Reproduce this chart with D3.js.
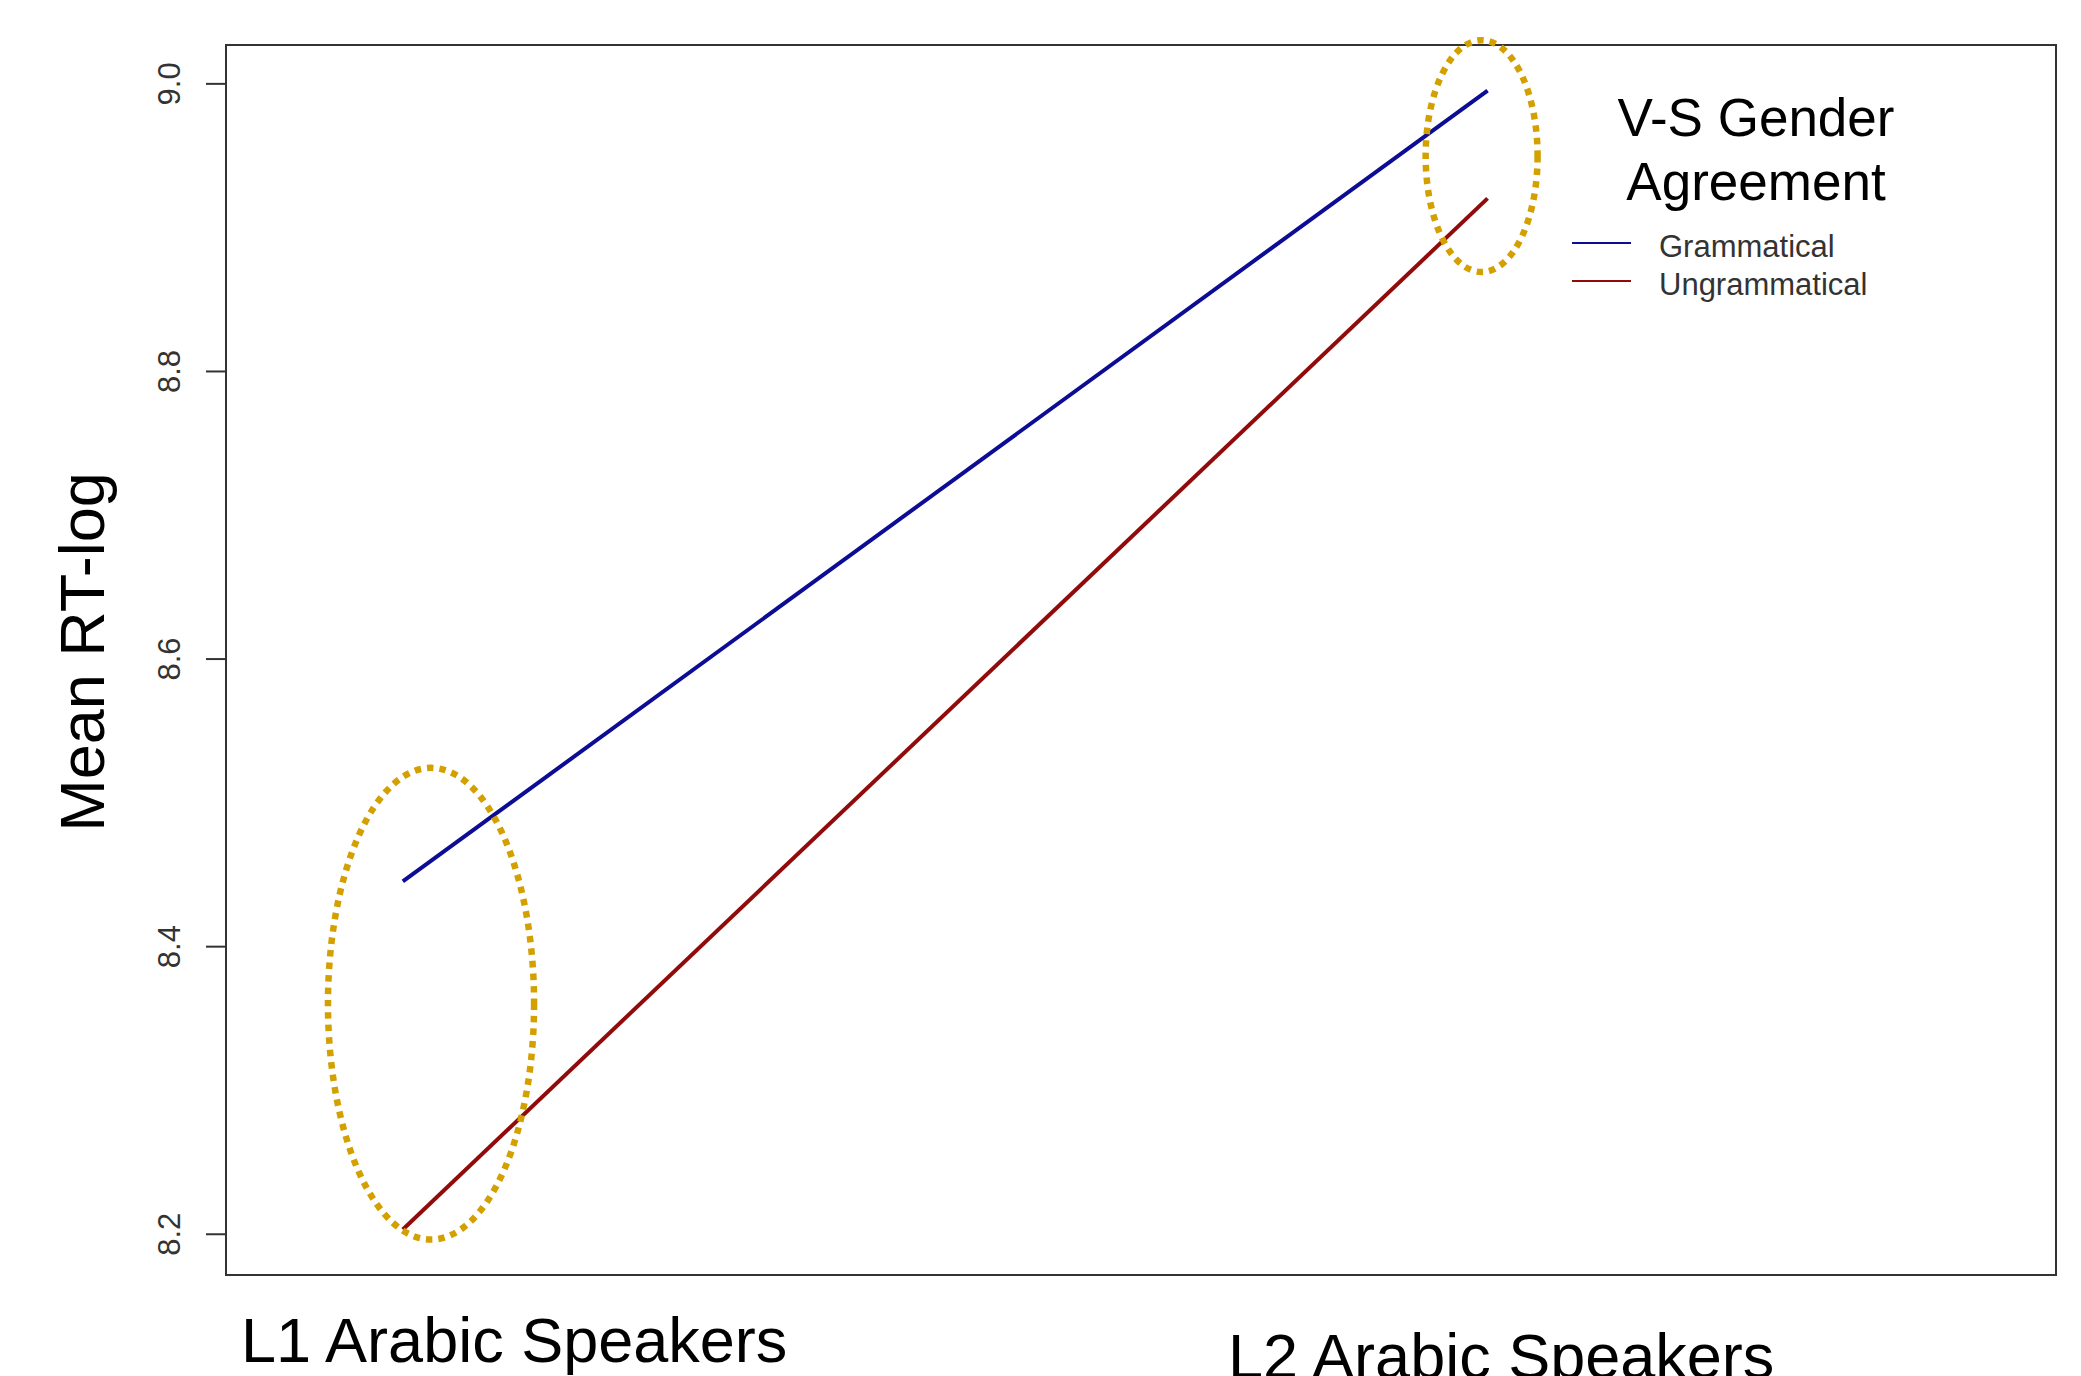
<!DOCTYPE html>
<html>
<head>
<meta charset="utf-8">
<script src="https://cdn.jsdelivr.net/npm/d3@7/dist/d3.min.js"></script>
<style>
  html, body { margin: 0; padding: 0; background: #fff; }
  svg { display: block; }
  text { font-family: "Liberation Sans", Arial, Helvetica, sans-serif; }
</style>
</head>
<body>
<script>
// ---- data ----
const groups = ["L1 Arabic Speakers", "L2 Arabic Speakers"];
const groupPos = [1, 2];
const seriesNames = ["Grammatical", "Ungrammatical"];
const grammatical = [8.445, 8.995];
const ungrammatical = [8.203, 8.920];
const seriesColors = ["#0c0c94", "#920b0b"];
const yTicks = [8.2, 8.4, 8.6, 8.8, 9.0];
const yTickLabels = ["8.2", "8.4", "8.6", "8.8", "9.0"];
const yTitle = "Mean RT-log";
const legendTitle = ["V-S Gender", "Agreement"];
// highlight ellipses (data units: centre x/y, radius in x units, radius in y units)
const highlightX = [1.026, 1.9945];
const highlightY = [8.360, 8.9494];
const highlightRX = [0.095, 0.0516];
const highlightRY = [0.164, 0.0806];

// ---- layout ----
const W = 2081, H = 1376;
const plot = { left: 226, top: 45, right: 2056, bottom: 1275 };

const svg = d3.select("body").append("svg")
  .attr("width", W).attr("height", H)
  .attr("viewBox", `0 0 ${W} ${H}`);

// y domain like R: data range extended by 4%
const allVals = grammatical.concat(ungrammatical);
const yMin = d3.min(allVals), yMax = d3.max(allVals);
const ext = (yMax - yMin) * 0.04;
const y = d3.scaleLinear().domain([yMin - ext, yMax + ext]).range([plot.bottom, plot.top]);
const x = d3.scaleLinear().domain([0.837, 2.524]).range([plot.left, plot.right]);

// y axis
const yAxis = d3.axisLeft(y).tickValues(yTicks)
  .tickFormat((d, i) => yTickLabels[i]).tickSize(20).tickPadding(0);
const gy = svg.append("g").attr("transform", `translate(${plot.left},0)`).call(yAxis);
gy.select(".domain").remove();
gy.selectAll(".tick line").attr("stroke", "#333").attr("stroke-width", 2);
gy.selectAll(".tick text")
  .attr("transform", "rotate(-90)")
  .attr("x", 0).attr("y", -46).attr("dy", 0)
  .attr("text-anchor", "middle")
  .attr("fill", "#333")
  .style("font-size", "31px");

// box
svg.append("rect")
  .attr("x", plot.left).attr("y", plot.top)
  .attr("width", plot.right - plot.left).attr("height", plot.bottom - plot.top)
  .attr("fill", "none").attr("stroke", "#333").attr("stroke-width", 2);

// lines
const line = d3.line().x((d, i) => x(groupPos[i])).y(d => y(d));
[grammatical, ungrammatical].forEach((s, k) => {
  svg.append("path").datum(s)
    .attr("d", line)
    .attr("fill", "none")
    .attr("stroke", seriesColors[k])
    .attr("stroke-width", 4);
});

// highlight ellipses
highlightX.forEach((hx, i) => {
  svg.append("ellipse")
    .attr("cx", x(hx)).attr("cy", y(highlightY[i]))
    .attr("rx", x(hx + highlightRX[i]) - x(hx))
    .attr("ry", y(highlightY[i] - highlightRY[i]) - y(highlightY[i]))
    .attr("fill", "none")
    .attr("stroke", "#d3a000")
    .attr("stroke-width", 6.5)
    .attr("stroke-dasharray", "6.5 6");
});

// legend
const lg = svg.append("g");
lg.selectAll("text.title").data(legendTitle).enter().append("text")
  .attr("class", "title")
  .attr("x", 1756).attr("y", (d, i) => 136 + i * 64)
  .attr("text-anchor", "middle")
  .attr("fill", "#000")
  .style("font-size", "53px")
  .text(d => d);
seriesNames.forEach((n, i) => {
  lg.append("line")
    .attr("x1", 1572).attr("x2", 1631)
    .attr("y1", 243 + i * 38).attr("y2", 243 + i * 38)
    .attr("stroke", seriesColors[i]).attr("stroke-width", 2);
  lg.append("text")
    .attr("x", 1659).attr("y", 257 + i * 38)
    .attr("fill", "#333")
    .style("font-size", "31px")
    .text(n);
});

// x labels
const xLabelX = [241, 1228];
const xLabelY = [1362, 1378];
groups.forEach((g, i) => {
  svg.append("text")
    .attr("x", xLabelX[i]).attr("y", xLabelY[i])
    .attr("fill", "#000")
    .style("font-size", "63px")
    .text(g);
});

// y title
svg.append("text")
  .attr("transform", "translate(104,652) rotate(-90)")
  .attr("text-anchor", "middle")
  .attr("fill", "#000")
  .style("font-size", "63px")
  .text(yTitle);
</script>
</body>
</html>
